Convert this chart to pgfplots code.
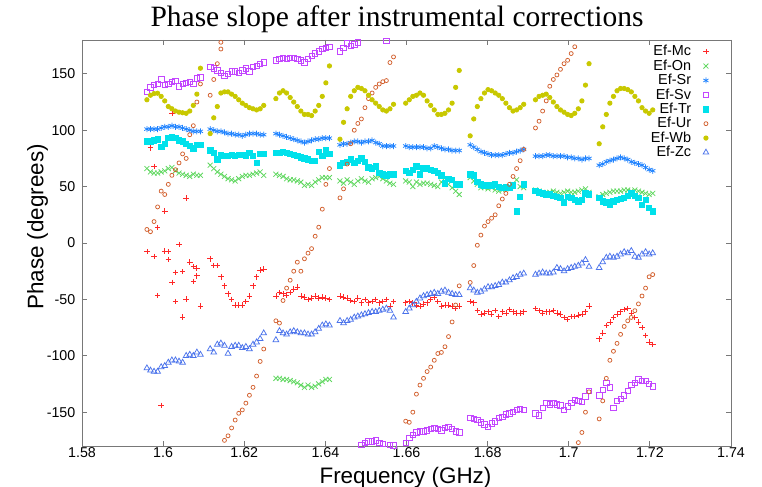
\documentclass[border=0pt]{standalone}
\usepackage{fontspec}
\setmainfont{Liberation Sans}
\newfontfamily\titlefont{Liberation Serif}
\usepackage{pgfplots}
\usepackage{pgfplotstable}
\pgfplotsset{compat=1.18}

\definecolor{cMc}{RGB}{255,40,40}
\definecolor{cOn}{RGB}{95,215,95}
\definecolor{cSr}{RGB}{30,130,255}
\definecolor{cSv}{RGB}{195,70,255}
\definecolor{cTr}{RGB}{0,225,235}
\definecolor{cUr}{RGB}{210,95,45}
\definecolor{cWb}{RGB}{200,200,0}
\definecolor{cZc}{RGB}{75,115,235}
\definecolor{framec}{RGB}{120,120,120}

% phase per station, 8 frequency bands
\pgfplotstableread{
x Mc Mc2 On On2 Sr Sv Tr Ur Ur2 Wb Zc
1.59600 -7.7 nan 66 nan 101 134 90 12 nan 127 -111
1.59688 84.4 nan 63 nan 101 138 90 10 nan 131 -113
1.59776 -12 68 62 nan 101 140 91 19 nan 132.5 -114
1.59864 -46.7 13.9 62 nan 101 141 92 32 nan 132.8 -114
1.59952 -144 nan 63 nan 102 145 85 46 nan 130 -110
1.60040 28.3 -7 64 nan 103 140 88 43 nan 126 -109
1.60128 -14.5 -7.7 66 nan 103 141 93 52 nan 121 -106
1.60216 -35 114.9 67 nan 104 143 94 60 nan 119 -104
1.60304 -26 -52 64 nan 103 144 93 65 nan 117 -104
1.60392 -1.2 nan 62 nan 103 139 91 71 nan 116 -105
1.60480 -65.8 -25.4 61 nan 102 141 90 79 nan 115.5 -106
1.60568 40 -49.9 60 nan 101 142 88 75 nan 115 -100
1.60656 -17 nan 59 nan 100 143 86 96 nan 117 -99
1.60744 -21 -34 61 nan 99 141 84 104 nan 122 -100
1.60832 -29 -22.4 60 nan 99 146 87 125 nan 132 -97
1.60920 -55.8 nan 60 nan 99 147 87 141 nan 155 -99
1.61160 -14 nan 69 nan 101 156 82 131 nan 97 -94
1.61248 -20 nan 66 nan 100 155 80 145 nan 111 -97
1.61336 -20 nan 63 nan 99 153 74 159 nan 121 -90
1.61424 -30 nan 61 nan 99 151 78 172 178 133 -89
1.61512 -38 nan 59 nan 98 148 77 -175 nan 134 -91
1.61600 -45 nan 57 nan 97 150 77 -171 nan 134 -98
1.61688 -50 nan 56 nan 97 152 78 -164 nan 132 -92
1.61776 -55 nan 55 nan 96 152 77 -157 nan 130 -91
1.61864 -55 nan 57 nan 96 151 78 -151 nan 127 -91
1.61952 -55 nan 59 nan 95 153 78 -148 nan 124 -93
1.62040 -52 nan 60 nan 96 155 77 -142 nan 122 -92
1.62128 -47 nan 60 nan 97 152 80 -135 nan 120 -94
1.62216 -38 nan 61 nan 97 156 77 -128 nan 119 -90
1.62304 -30 nan 62 nan 97 157 71 -118 nan 118 -88
1.62392 -24 nan 63 nan 96 159 79 -105 nan 119 -85
1.62480 -23 nan 60 nan 96 160 79 -94 nan 122 -80
1.62780 -47 nan 61 -120 97 162 80 -69 nan 128 -86
1.62868 -44 nan 60 -120 96 163 80 -71 nan 133 -78
1.62956 -45 nan 59 -121 95 164 81 -51 nan 135 -80
1.63044 -46 nan 57 -121 94 163 80 -40 nan 133 -81
1.63132 -44 nan 56 -122 93 164 79 -33 nan 129 -79
1.63220 -41 nan 56 -123 92 164 78 -25 nan 125 -78
1.63308 -39 nan 55 -124 91 163 77 -17 nan 121 -79
1.63396 -47 nan 54 -126 90 162 76 -25 nan 117 -80
1.63484 -48 nan 51 -128 89 160 75 -14 nan 114 -80
1.63572 -50 nan 52 -126 90 163 74 -9 nan 114 -81
1.63660 -49 nan 51 -128 91 166 73 -5 nan 113 -81
1.63748 -47 nan 54 -127 92 168 73 6 nan 117 -79
1.63836 -49 nan 56 -125 92 170 81 14 nan 122 -76
1.63924 -48 nan 58 -123 93 172 77 30 nan 130 -73
1.64012 -49 nan 58 -121 93 173 82 52 nan 142 -72
1.64100 -50 nan 58 -121 93 174 79 66 nan 157 -73
1.64360 -47 nan 55 nan 87 170 69 40 nan 92 -69
1.64448 -48 nan 53 nan 88 173 71 48 nan 107 -71
1.64536 -49 nan 56 nan 88 177 72 70 nan 119 -69
1.64624 -51 nan 54 nan 89 175 74 88 nan 130 -68
1.64712 -52 nan 52 nan 90 176 71 100 nan 135 -66
1.64800 -49 nan 55 nan 90 178 73 106 nan 138 -65
1.64888 -53 nan 57 nan 89 -179 75 110 nan 137 -64
1.64976 -50 nan 55 nan 90 -177 72 120 nan 135 -63
1.65064 -53 nan 54 nan 90 -176 67 128 nan 131 -62
1.65152 -52 nan 57 nan 91 -176 66 133 nan 127 -61
1.65240 -50 nan 58 nan 89 -175 68 138 nan 124 -61
1.65328 -53 nan 59 nan 88 -177 62 141 nan 121 -60
1.65416 -52 nan 57 nan 86 -178 61 143 nan 118 -59
1.65504 -50 nan 55 nan 86 179 60 144 nan 117 -58
1.65592 -56 nan 53 nan 86 -179 61 160 nan 119 -60
1.65680 -52 nan 52 nan 86 -179.5 61 165 nan 123 -66
1.65980 -53 nan 55 nan 86 -177 64 -158 nan 124 -61
1.66068 -52 nan 54 nan 85 -173 62 -159 nan 127 -58
1.66156 -53 nan 50 nan 85 -170 65 -150 nan 130 -55
1.66244 -55 nan 54 nan 85 -168 68 -134 nan 131 -52
1.66332 -56 nan 52 nan 85 -167 61 -126 nan 133 -49
1.66420 -54 nan 53 nan 85 -167 66 -120 nan 131 -47
1.66508 -53 nan 53 nan 84 -166 66 -114 nan 126 -46
1.66596 -50 nan 52 nan 84 -165 65 -110 nan 122 -45
1.66684 -48 nan 51 nan 86 -164 64 -104 nan 118 -44
1.66772 -52 nan 50 nan 85 -165 62 -98 nan 114 -45
1.66860 -56 nan 54 nan 84 -166 60 -97 nan 114 -43
1.66948 -55 nan 55 nan 83 -164 53 -92 nan 115 -42
1.67036 -55 nan 52 nan 83 -163 57 -83 nan 118 -44
1.67124 -56 nan 49 nan 82 -165 56 -70 nan 124 -45
1.67212 -58 nan 46 nan 82 -167 52 -55 nan 138 -46
1.67300 -56 nan 43 nan 82 -168 52 -38 nan 153 -46
1.67570 -52 nan 58 nan 87 -155 61 -35 nan 95 -40
1.67658 -53 nan 55 nan 85 -156 60 -20 nan 110 -42
1.67746 -60 nan 52 nan 83 -157 54 -2 nan 121 -44
1.67834 -63 nan 49 nan 81 -159 52 7 nan 128 -43
1.67922 -62 nan 49 nan 80 -161 51 15 nan 133 -41
1.68010 -61 nan 48 nan 79 -163 51 19 nan 136 -39
1.68098 -63 nan 49 nan 78 -160 51 22 nan 135 -39
1.68186 -60 nan 47 nan 78 -158 52 25 nan 133 -38
1.68274 -65 nan 46 nan 78 -155 50 33 nan 131 -37
1.68362 -61 nan 47 nan 78 -154 49 39 nan 128 -35
1.68450 -62 nan 48 nan 79 -152 50 44 nan 124 -35
1.68538 -59 nan 49 nan 80 -151 49 52 nan 120 -33
1.68626 -61 nan 52 nan 80 -150 51 59 nan 117 -31
1.68714 -62 nan 56 nan 81 -148 28 66 nan 118 -30
1.68802 -62 nan 50 nan 82 -147 41 73 nan 120 -28
1.68890 -61 nan 49 nan 83 -148 52 83 nan 123 -27
1.69180 -58 nan 47 nan 77 -151 46 102 nan 127 -28
1.69268 -60 nan 46 nan 77 -153 45 108 nan 130 -27
1.69356 -62 nan 45 nan 77 -146 44 117 nan 131 -26
1.69444 -61 nan 44 nan 78 -142 43 126 nan 132 -27
1.69532 -61 nan 45 nan 78 -143 43 139 nan 129 -27
1.69620 -60 nan 46 nan 77 -142 42 145 nan 125 -26
1.69708 -62 nan 45 nan 77 -143 41 149 nan 121 -22
1.69796 -63 nan 44 nan 77 -144 40 154 nan 118 -23
1.69884 -66 nan 45 nan 77 -148 36 159 nan 116 -25
1.69972 -68 nan 46 nan 76 -145 41 162 nan 114 -23
1.70060 -65 nan 45 nan 76 -142 40 168 nan 113 -22
1.70148 -65 nan 45 nan 75 -139 38 174 nan 115 -21
1.70236 -64 nan 46 nan 75 -140 37 -177 nan 119 -20
1.70324 -63 nan 47 nan 74 -141 38 -168 nan 126 -18
1.70412 -61 nan 48 nan 75 -136 44 -150 nan 140 -15
1.70500 -56 nan 45 nan 75 -131 43 -132 nan 159 -21
1.70750 -85 nan 41 nan 69 -135 40 -156 nan 88 -22
1.70838 -80 nan 43 nan 70 -130 37 -140 nan 103 -17
1.70926 -73 nan 44 nan 72 -124 36 -120 nan 114 -13
1.71014 -70 nan 45 nan 73 -128 34 -104 nan 124 -12
1.71102 -66 nan 46 nan 74 -146 37 -96 nan 130 -13
1.71190 -63 nan 46 nan 75 -140 38 -89 nan 135 -12
1.71278 -61 nan 46 nan 76 -138 39 -81 nan 137 -10
1.71366 -59 nan 47 nan 75 -135 40 -74 nan 137 -8
1.71454 -58 nan 47 nan 74 -131 42 -69 nan 136 -9
1.71542 -62 nan 46 nan 72 -126 44 -66 nan 134 -7
1.71630 -66 nan 47 nan 71 -124 42 -60 nan 130 -12
1.71718 -70 nan 46 nan 70 -121 40 -54 nan 126 -13
1.71806 -75 nan 45 nan 69 -122 34 -47 nan 120 -10
1.71894 -82 nan 44 nan 67 -122 38 -40 nan 117 -8
1.71982 -88 nan 43 nan 65 -125 31 -30 nan 115 -10
1.72070 -90 nan 44 nan 64 -127 28 -28 nan 118 -9
}\phase

\begin{document}
\begin{tikzpicture}
\begin{axis}[
    scale only axis, width=649bp, height=406bp,
    xmin=1.58, xmax=1.74, ymin=-180, ymax=180,
    xtick={1.58,1.60,1.62,1.64,1.66,1.68,1.70,1.72,1.74},
    xticklabels={1.58,1.6,1.62,1.64,1.66,1.68,1.7,1.72,1.74},
    ytick={-150,-100,-50,0,50,100,150},
    yticklabels={-150,-100,-50,0,50,100,150},
    tick align=inside, major tick length=5bp,
    axis line style={draw=framec, line width=0.9bp},
    every tick/.style={draw=framec, line width=0.9bp},
    tick label style={font=\fontsize{14.3}{16}\selectfont},
    xticklabel style={yshift=1.5bp},
    yticklabel style={xshift=-3.2bp},
    every axis plot/.append style={only marks, line width=0.75bp},
    legend style={draw=none, fill=none, at={(0.9658,0.989)}, anchor=north east,
        inner sep=0pt, outer sep=0pt, row sep=0pt, column sep=11bp,
        font=\fontsize{14.5}{16}\selectfont,
        nodes={inner sep=1bp, text height=10.5bp, text depth=1.9bp}},
    legend cell align=right,
    legend plot pos=right,
]
% tiny hidden lead mark
\addplot[forget plot, white, mark=*, mark size=0.01bp] coordinates {(1.73,-175)};
\addplot[cMc, mark=+, mark size=2.8bp] table[x=x, y=Mc] {\phase};
\addlegendentry{Ef-Mc}
\addplot[forget plot, cMc, mark=+, mark size=2.8bp] table[x=x, y=Mc2] {\phase};
\addplot[cOn, mark=x, mark size=3.5bp] table[x=x, y=On] {\phase};
\addlegendentry{Ef-On}
\addplot[forget plot, cOn, mark=x, mark size=3.5bp] table[x=x, y=On2] {\phase};
\addplot[cSr, mark=asterisk, mark size=3bp] table[x=x, y=Sr] {\phase};
\addlegendentry{Ef-Sr}
\addplot[cSv, mark=square, mark size=2.7bp] table[x=x, y=Sv] {\phase};
\addlegendentry{Ef-Sv}
\addplot[cTr, mark=square*, mark size=2.7bp, mark options={fill=cTr}] table[x=x, y=Tr] {\phase};
\addlegendentry{Ef-Tr}
\addplot[cUr, mark=o, mark size=2bp] table[x=x, y=Ur] {\phase};
\addlegendentry{Ef-Ur}
\addplot[forget plot, cUr, mark=o, mark size=2bp] table[x=x, y=Ur2] {\phase};
\addplot[cWb, mark=*, mark size=2.2bp, mark options={fill=cWb}] table[x=x, y=Wb] {\phase};
\addlegendentry{Ef-Wb}
\addplot[cZc, mark=triangle, mark size=3.3bp] table[x=x, y=Zc] {\phase};
\addlegendentry{Ef-Zc}
\end{axis}
\node[font=\titlefont\fontsize{29.6}{34}\selectfont, anchor=base] at ([shift={(315bp,419bp)}]current axis.south west) {Phase slope after instrumental corrections};
\node[font=\fontsize{22.5}{26}\selectfont, anchor=base] at ([shift={(323.5bp,-37bp)}]current axis.south west) {Frequency (GHz)};
\node[font=\fontsize{22.5}{26}\selectfont, anchor=base, rotate=90] at ([shift={(-38.7bp,219bp)}]current axis.south west) {Phase (degrees)};
\pgfresetboundingbox
\path ([shift={(-82bp,-41bp)}]current axis.south west) rectangle ([shift={(31bp,40bp)}]current axis.north east);
\end{tikzpicture}
\end{document}
